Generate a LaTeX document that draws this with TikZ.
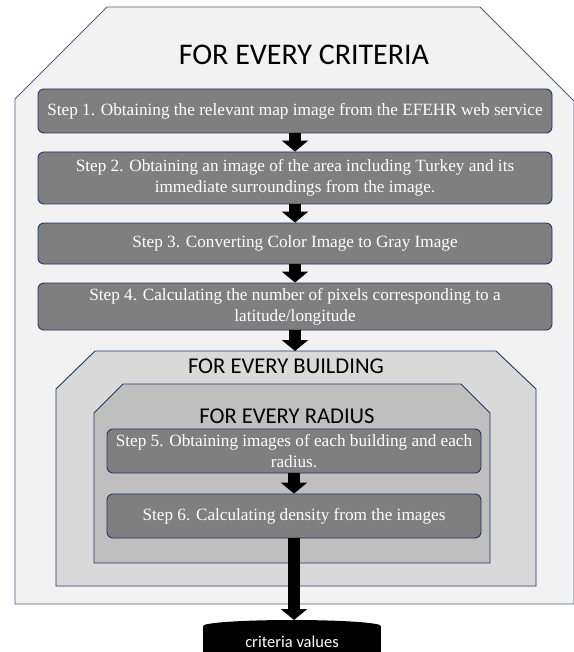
\documentclass[tikz,border=0pt]{standalone}
\usepackage{fontspec}
\setmainfont{Liberation Serif}
\newfontfamily\calib{Carlito}
\usetikzlibrary{arrows.meta}
\definecolor{outerfill}{HTML}{F2F2F2}
\definecolor{bldfill}{HTML}{D9D9D9}
\definecolor{radfill}{HTML}{BFBFBF}
\definecolor{stepfill}{HTML}{7F7F7F}
\definecolor{navy}{HTML}{1F3864}
\definecolor{edgegray}{HTML}{4F5F80}
\begin{document}
\begin{tikzpicture}[x=1pt,y=-1pt,
 stepbox/.style={draw=navy, line width=0.9pt, fill=stepfill, rounded corners=6pt, text=white, align=center, font=\fontsize{17.2}{21}\selectfont, inner sep=0pt},
 loopline/.style={draw=edgegray, line width=0.9pt},
 looptitle/.style={font=\calib\fontsize{22.6}{26}\selectfont, text=black, inner sep=0pt},
 blockarrow/.style={line width=12pt, -{Triangle[width=26pt,length=11pt]}}
]
\useasboundingbox (0,0) rectangle (573,652);
\fill[white] (0,0) rectangle (573,652);
% outer loop
\draw[loopline, fill=outerfill] (107,7) -- (480,7) -- (574,101) -- (574,604) -- (15,604) -- (15,99) -- cycle;
\node[looptitle, font=\calib\fontsize{30}{34}\selectfont] (tc) at (304,55) {FOR EVERY CRITERIA};
% steps 1-4
\node[stepbox, minimum width=514pt, minimum height=44pt] (s1) at (295,111) {Step 1. Obtaining the relevant map image from the EFEHR web service};
\node[stepbox, minimum width=514pt, minimum height=52pt] (s2) at (295,178) {Step 2. Obtaining an image of the area including Turkey and its\\immediate surroundings from the image.};
\node[stepbox, minimum width=514pt, minimum height=41pt] (s3) at (295,243.5) {Step 3. Converting Color Image to Gray Image};
\node[stepbox, minimum width=514pt, minimum height=47pt] (s4) at (295,306.5) {Step 4. Calculating the number of pixels corresponding to a\\latitude/longitude};
% building loop
\draw[loopline, draw=navy, fill=bldfill] (95,351) -- (496,351) -- (536,389) -- (536,586) -- (56,586) -- (56,389) -- cycle;
\coordinate (btop) at (295,351);
\node[looptitle] (tb) at (286,366) {FOR EVERY BUILDING};
% radius loop
\draw[loopline, draw=navy, fill=radfill] (123,384) -- (461,384) -- (490,413) -- (490,563) -- (94,563) -- (94,413) -- cycle;
\node[looptitle] (tr) at (287,416) {FOR EVERY RADIUS};
% steps 5-6
\node[stepbox, minimum width=374pt, minimum height=44pt] (s5) at (294,451) {Step 5. Obtaining images of each building and each\\radius.};
\node[stepbox, minimum width=374pt, minimum height=44pt] (s6) at (294,516) {Step 6. Calculating density from the images};
% criteria values
\fill[black] (203,626) rectangle (381,660);
\fill[black] (292,626) ellipse [x radius=89, y radius=6];
\node[font=\calib\fontsize{16.5}{19}\selectfont, text=white, inner sep=0pt] (crit) at (292,642) {criteria values};
\coordinate (ctop) at (294,620);
% arrows
\draw[blockarrow] (s1.south) -- (s2.north);
\draw[blockarrow] (s2.south) -- (s3.north);
\draw[blockarrow] (s3.south) -- (s4.north);
\draw[blockarrow] (s4.south) -- (btop);
\draw[blockarrow] (s5.south) -- (s6.north);
\draw[blockarrow] (s6.south) -- (ctop);
\end{tikzpicture}
\end{document}
